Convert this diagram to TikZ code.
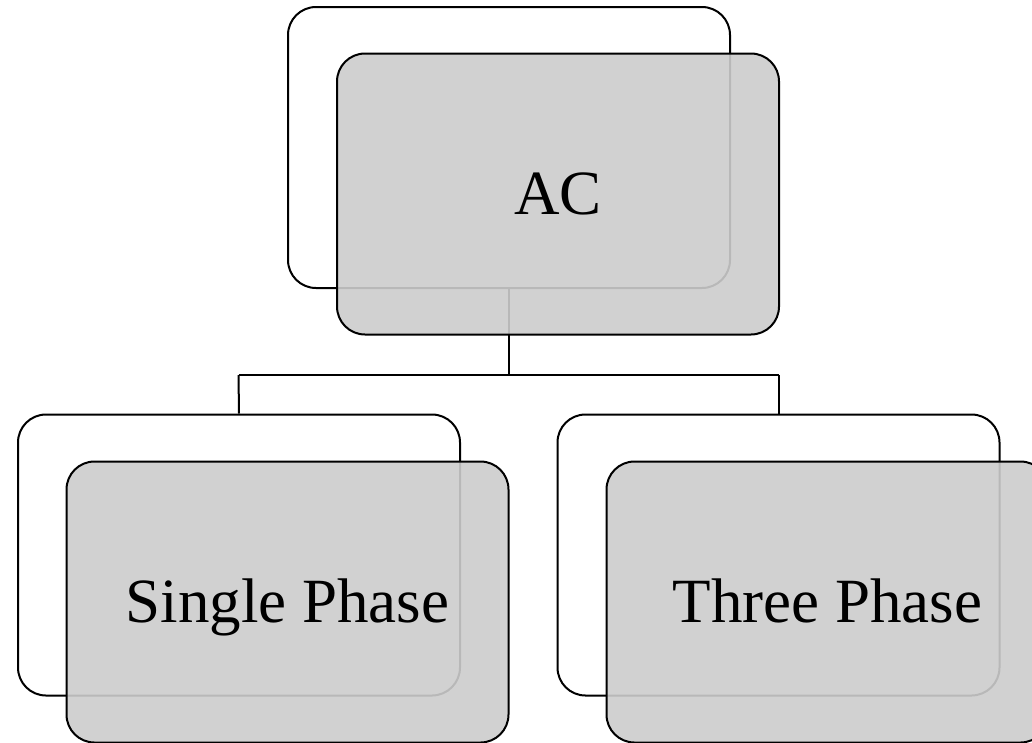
\documentclass[tikz,border=0pt]{standalone}
\usepackage{fontspec}
\setmainfont{Liberation Serif}
\begin{document}
\begin{tikzpicture}
    [x=1pt,y=-1pt,
    backbox/.style={draw=black,line width=2pt,rounded corners=28pt,fill=white,minimum width=442pt,minimum height=281pt,inner sep=0pt},
    frontbox/.style={backbox,fill=black!20,fill opacity=0.9,text opacity=1,font=\fontsize{63}{75}\selectfont,text height=45pt,text depth=5pt},
    link/.style={draw=black,line width=2pt}]
		\useasboundingbox (0,0) rectangle (1032,742);
		% parent
		\node [backbox] (acback) at (509,147.5) {};
		\coordinate (branch) at (509,375);
		\coordinate (branchl) at (238.5,375);
		\coordinate (branchr) at (778.5,375);
		\draw[link] (acback.south) -- (branch);
		\node [frontbox] (ac) at (558,194) {AC};

		% children
		\node [backbox] (singleback) at (239,555) {};
		\node [backbox] (threeback) at (778.5,555) {};
		\draw[link] (branchl) -- (branchr);
		\draw[link] (branchl) -- (singleback.north);
		\draw[link] (branchr) -- (threeback.north);
		\node [frontbox] (single) at (287.5,602) {Single Phase};
		\node [frontbox] (three) at (827.5,602) {Three Phase};
\end{tikzpicture}
\end{document}
